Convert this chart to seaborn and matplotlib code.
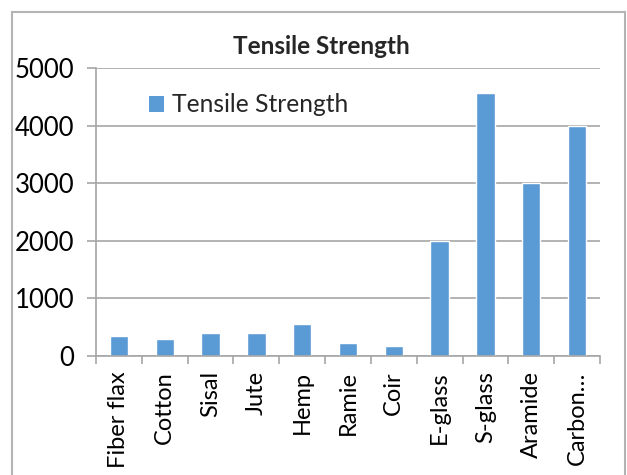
import matplotlib
matplotlib.use("Agg")
import matplotlib.pyplot as plt
from matplotlib.patches import Patch, Rectangle
import numpy as np
import pandas as pd
import seaborn as sns

# Tensile strength (MPa) of natural and synthetic fibres
fibres = ["Fiber flax", "Cotton", "Sisal", "Jute", "Hemp", "Ramie", "Coir",
          "E-glass", "S-glass", "Aramide", "Carbon\u2026"]
strength = [345, 287, 400, 393, 550, 220, 175, 2000, 4570, 3000, 4000]
y_ticks = [0, 1000, 2000, 3000, 4000, 5000]

series_name = "Tensile Strength"
bar_color = "#5b9bd5"
grid_color = "#a6a6a6"

sns.set_theme(style="white")
plt.rcParams["font.family"] = ["Lato", "DejaVu Sans"]

df = pd.DataFrame({"fibre": fibres, "strength": strength})

fig = plt.figure(figsize=(6.27, 4.75), dpi=100)
W, H = 627, 475
ax = fig.add_axes([96 / W, 1 - 356 / H, (600 - 96) / W, (356 - 68) / H])

sns.barplot(data=df, x="fibre", y="strength", color=bar_color, width=0.4,
            saturation=1, ax=ax)

ax.set_xlim(-0.5, len(fibres) - 0.5)
ax.set_ylim(0, 5000)
ax.set_yticks(y_ticks)
ax.set_xlabel("")
ax.set_ylabel("")

# horizontal gridlines and axes styling
ax.yaxis.grid(True, color=grid_color, linewidth=1.2)
ax.set_axisbelow(True)
for side in ["top", "right"]:
    ax.spines[side].set_visible(False)
for side in ["left", "bottom"]:
    ax.spines[side].set_color(grid_color)
    ax.spines[side].set_linewidth(1.2)

ax.tick_params(axis="y", which="major", direction="out", length=6.5,
               width=1.2, color=grid_color, pad=9, labelsize=18.5,
               left=True, labelcolor="black")
ax.tick_params(axis="x", which="major", length=0, pad=11, labelsize=17,
               labelcolor="black", labelrotation=90)
ax.set_xticks(np.arange(-0.5, len(fibres), 1.0), minor=True)
ax.tick_params(axis="x", which="minor", direction="out", length=6,
               width=1.2, color=grid_color, bottom=True)
for lbl in ax.get_xticklabels():
    lbl.set_verticalalignment("top")
    lbl.set_horizontalalignment("center")

# chart title, centred on the chart area
fig.text(321 / W, 1 - 47 / H, series_name, fontsize=17.5, fontweight="bold",
         ha="center", va="center")

handle = Patch(facecolor=bar_color, edgecolor="none", label=series_name)
fig.legend(handles=[handle], loc="center left",
           bbox_to_anchor=(149 / W, 1 - 105 / H), frameon=False,
           fontsize=17.7, handlelength=0.6, handleheight=0.6,
           handletextpad=0.35, borderpad=0, borderaxespad=0)

# chart area border
fig.add_artist(Rectangle((12 / W, -0.1), (625 - 12) / W, 1.1 - 12 / H,
                         transform=fig.transFigure, fill=False,
                         edgecolor="#b4b4b4", linewidth=1.5))

fig.savefig("out.png", dpi=100, facecolor="white")
